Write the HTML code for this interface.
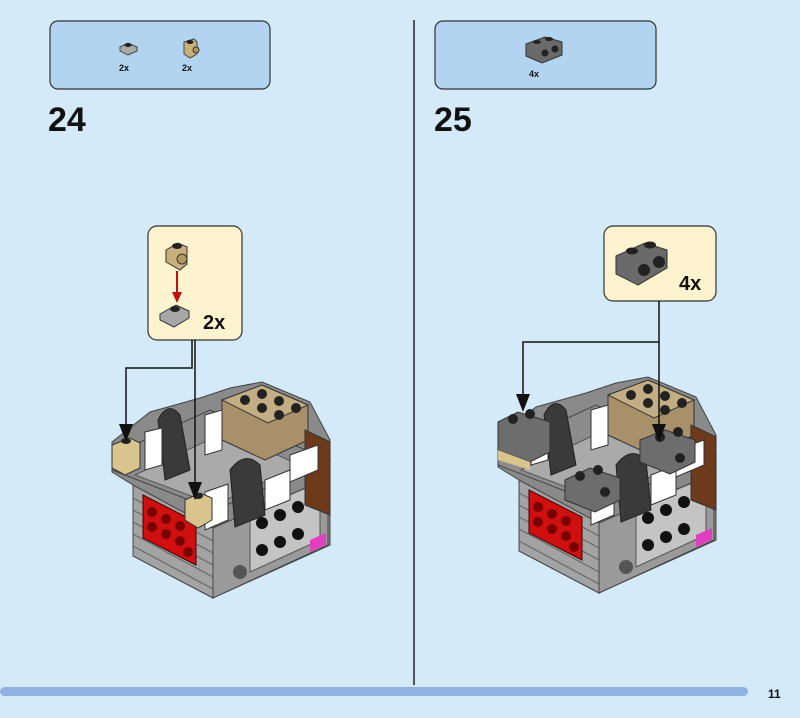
<!DOCTYPE html>
<html><head><meta charset="utf-8"><style>
html,body{margin:0;padding:0;background:#d5eaf9;}
svg{display:block}
text{font-family:"Liberation Sans",sans-serif;font-weight:bold;fill:#111}
</style></head><body>
<svg width="800" height="718" viewBox="0 0 800 718" xmlns="http://www.w3.org/2000/svg">
<defs>
<g id="model">
  <polygon points="112,442 150,412 200,398 230,388 262,382 310,402 330,440 330,545 213,598 133,556 133,485 112,472" fill="#8a8a8a" stroke="#444"/>
  <!-- base left face -->
  <polygon points="133,485 213,528 213,598 133,556" fill="#a3a3a3" stroke="#444" stroke-width="1"/>
  <g stroke="#666" stroke-width="1">
    <line x1="133" y1="498" x2="213" y2="541"/><line x1="133" y1="510" x2="213" y2="553"/>
    <line x1="133" y1="522" x2="213" y2="565"/><line x1="133" y1="534" x2="213" y2="577"/>
    <line x1="133" y1="546" x2="213" y2="589"/>
  </g>
  <polygon points="143,495 196,522 196,565 143,538" fill="#d01010" stroke="#400" stroke-width="1"/>
  <g fill="#7a0000"><circle cx="152" cy="512" r="5"/><circle cx="166" cy="519" r="5"/><circle cx="180" cy="526" r="5"/><circle cx="152" cy="527" r="5"/><circle cx="166" cy="534" r="5"/><circle cx="180" cy="541" r="5"/><circle cx="188" cy="552" r="5"/></g>
  <!-- base right face -->
  <polygon points="213,528 328,478 328,545 213,598" fill="#9a9a9a" stroke="#444" stroke-width="1"/>
  <polygon points="250,512 320,482 320,540 250,572" fill="#c4c4c4" stroke="#555"/>
  <g fill="#111"><circle cx="262" cy="523" r="6"/><circle cx="280" cy="515" r="6"/><circle cx="298" cy="507" r="6"/><circle cx="315" cy="499" r="6"/>
  <circle cx="262" cy="550" r="6"/><circle cx="280" cy="542" r="6"/><circle cx="298" cy="534" r="6"/><circle cx="240" cy="572" r="7" fill="#555"/></g>
  <polygon points="310,540 326,533 326,545 310,552" fill="#e040c0"/>
  <!-- middle grey plate -->
  <polygon points="112,455 210,410 330,460 215,510 112,470" fill="#8c8c8c" stroke="#444"/>
  <polygon points="135,475 225,432 300,465 215,505" fill="#aaaaaa" stroke="#555"/>
  <!-- back tan wall -->
  <polygon points="222,400 262,385 308,405 308,440 265,460 222,440" fill="#a8916a" stroke="#333"/>
  <polygon points="222,400 262,385 308,405 268,423" fill="#c2ad85" stroke="#333"/>
  <g fill="#222"><circle cx="245" cy="400" r="5"/><circle cx="262" cy="408" r="5"/><circle cx="279" cy="415" r="5"/><circle cx="262" cy="394" r="5"/><circle cx="279" cy="401" r="5"/><circle cx="296" cy="408" r="5"/></g>
  <!-- right pillar -->
  <polygon points="305,430 330,442 330,515 305,505" fill="#6d3a1c" stroke="#333"/>
  <polygon points="290,455 318,445 318,470 290,482" fill="#ffffff" stroke="#333"/>
  <!-- dark arcs -->
  <path d="M158,420 q10,-20 22,-5 l10,55 l-25,10 z" fill="#3a3a3a" stroke="#222"/>
  <path d="M230,470 q15,-20 30,-5 l5,50 l-30,12 z" fill="#3a3a3a" stroke="#222"/>
  <!-- white blocks -->
  <polygon points="205,415 222,410 222,450 205,455" fill="#fff" stroke="#333"/>
  <polygon points="145,432 162,428 162,465 145,470" fill="#fff" stroke="#333"/>
  <polygon points="205,492 228,484 228,520 205,530" fill="#fff" stroke="#333"/>
  <polygon points="265,480 290,470 290,500 265,510" fill="#fff" stroke="#333"/>
</g>
</defs>

<rect x="50" y="21" width="220" height="68" rx="8" fill="#b2d4f1" stroke="#333" stroke-width="1.2"/>
<rect x="435" y="21" width="221" height="68" rx="8" fill="#b2d4f1" stroke="#333" stroke-width="1.2"/>
<polygon points="120,47 128,43 137,47 137,51 128,55 120,51" fill="#aaa" stroke="#444"/>
<ellipse cx="128" cy="45" rx="3.5" ry="2" fill="#222"/>
<text x="119" y="71" font-size="9">2x</text>
<polygon points="184,42 194,39 197,42 197,54 190,58 184,54" fill="#c9b07a" stroke="#444"/>
<circle cx="196" cy="50" r="3" fill="#b09860" stroke="#333"/>
<ellipse cx="190" cy="42" rx="3.5" ry="2" fill="#222"/>
<text x="182" y="71" font-size="9">2x</text>
<polygon points="526,44 545,37 562,42 562,55 542,63 526,56" fill="#6a6a6a" stroke="#333"/>
<g fill="#222"><ellipse cx="537" cy="42" rx="4" ry="2"/><ellipse cx="549" cy="39" rx="4" ry="2"/><circle cx="545" cy="53" r="3.5"/><circle cx="555" cy="49" r="3.5"/></g>
<text x="529" y="77" font-size="9">4x</text>

<text x="48" y="131" font-size="34">24</text>
<text x="434" y="131" font-size="34">25</text>

<line x1="414" y1="20" x2="414" y2="685" stroke="#222" stroke-width="1.5"/>

<rect x="148" y="226" width="94" height="114" rx="9" fill="#fdf3cf" stroke="#333" stroke-width="1.2"/>
<polygon points="166,250 178,243 187,247 187,264 180,270 166,262" fill="#c9b07a" stroke="#333"/>
<ellipse cx="177" cy="246" rx="5" ry="3" fill="#222"/>
<circle cx="182" cy="259" r="5" fill="#b09860" stroke="#333"/>
<line x1="177" y1="271" x2="177" y2="296" stroke="#c01010" stroke-width="2"/>
<polygon points="172,292 182,292 177,303" fill="#c01010"/>
<polygon points="160,314 176,305 189,311 189,318 174,327 160,320" fill="#a7a7a7" stroke="#333"/>
<ellipse cx="175" cy="309" rx="5" ry="3" fill="#222"/>
<text x="203" y="329" font-size="20">2x</text>

<rect x="604" y="226" width="112" height="75" rx="9" fill="#fdf3cf" stroke="#333" stroke-width="1.2"/>
<polygon points="616,256 645,243 667,250 667,268 638,285 616,274" fill="#6a6a6a" stroke="#333"/>
<g fill="#222"><ellipse cx="632" cy="251" rx="6" ry="3.5"/><ellipse cx="650" cy="245" rx="6" ry="3.5"/><circle cx="644" cy="270" r="6"/><circle cx="659" cy="262" r="6"/></g>
<text x="679" y="290" font-size="20">4x</text>

<use href="#model"/>
<use href="#model" transform="translate(386,-5)"/>
<polygon points="498,422 518,412 550,422 550,452 530,462 498,450" fill="#6d6d6d" stroke="#333"/>
<polygon points="498,450 530,462 530,470 498,460" fill="#d9c48e"/>
<g fill="#222"><circle cx="513" cy="419" r="5"/><circle cx="530" cy="414" r="5"/></g>
<polygon points="565,480 590,468 620,478 620,500 595,512 565,500" fill="#6d6d6d" stroke="#333"/>
<g fill="#222"><circle cx="580" cy="476" r="5"/><circle cx="598" cy="470" r="5"/><circle cx="605" cy="492" r="5"/></g>
<polygon points="640,440 665,430 695,440 695,462 670,474 640,462" fill="#6d6d6d" stroke="#333"/>
<g fill="#222"><circle cx="660" cy="437" r="5"/><circle cx="678" cy="432" r="5"/><circle cx="680" cy="458" r="5"/></g>
<polygon points="112,445 130,438 140,443 140,468 125,475 112,468" fill="#d9c48e" stroke="#333"/>
<ellipse cx="126" cy="441" rx="5" ry="3" fill="#222"/>
<polygon points="185,500 200,493 212,498 212,520 198,528 185,520" fill="#d9c48e" stroke="#333"/>
<ellipse cx="198" cy="496" rx="5" ry="3" fill="#222"/>

<g stroke="#111" stroke-width="1.5" fill="none">
<polyline points="192,340 192,368 126,368 126,430"/>
<line x1="195" y1="340" x2="195" y2="488"/>
<polyline points="659,301 659,342 523,342 523,398"/>
<line x1="659" y1="342" x2="659" y2="428"/>
</g>
<g fill="#111">
<polygon points="119,424 133,424 126,442"/>
<polygon points="188,482 202,482 195,500"/>
<polygon points="516,394 530,394 523,412"/>
<polygon points="652,424 666,424 659,442"/>
</g>

<rect x="0" y="687" width="748" height="9" rx="4.5" fill="#8fb2e0"/>
<text x="768" y="698" font-size="12">11</text>
</svg>
</body></html>
